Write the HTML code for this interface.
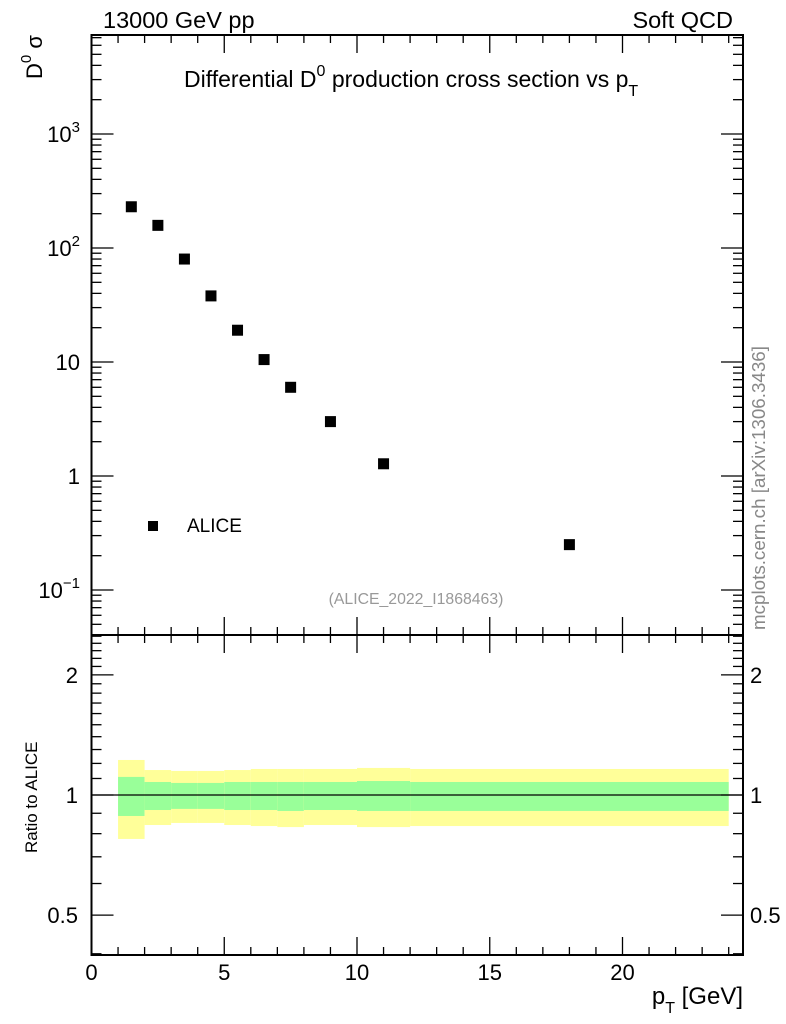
<!DOCTYPE html>
<html><head><meta charset="utf-8"><style>
html,body{margin:0;padding:0;background:#fff;}
svg{display:block;font-family:"Liberation Sans",sans-serif;}
</style></head><body>
<svg id="chart" width="786" height="1024" viewBox="0 0 786 1024" xmlns="http://www.w3.org/2000/svg">
<g id="bands"></g>
<g id="marks"></g>
<g id="axes"></g>
<text x="103" y="28" font-size="23.5">13000 GeV pp</text>
<text x="733" y="28" font-size="23.5" text-anchor="end">Soft QCD</text>
<text x="184" y="87" font-size="23">Differential D<tspan dy="-11" font-size="16">0</tspan><tspan dy="11"> production cross section vs p</tspan><tspan dy="9" font-size="16">T</tspan></text>
<text transform="translate(42,79) rotate(-90)" font-size="22">D<tspan dy="-11" font-size="15">0</tspan><tspan dy="11"> σ</tspan></text>
<text transform="translate(37,853) rotate(-90)" font-size="17">Ratio to ALICE</text>
<text x="743" y="1004" font-size="24" text-anchor="end">p<tspan dy="9" font-size="16">T</tspan><tspan dy="-9"> [GeV]</tspan></text>
<text x="416" y="604" font-size="15.8" fill="#999" text-anchor="middle">(ALICE_2022_I1868463)</text>
<text transform="translate(765,630) rotate(-90)" font-size="18.8" fill="#888">mcplots.cern.ch [arXiv:1306.3436]</text>
<g>
<rect x="148" y="521" width="10" height="10" fill="#000"/>
<text x="187" y="532" font-size="19">ALICE</text>
</g>
</svg>
<script>
const xCenters=[1.5,2.5,3.5,4.5,5.5,6.5,7.5,9,11,18];
const yValues=[230,158,80,38,19,10.5,6,3,1.28,0.25];
const binEdges=[1,2,3,4,5,6,7,8,10,12,24];
const yellowHi=[1.224,1.155,1.149,1.149,1.155,1.162,1.162,1.162,1.169,1.162];
const yellowLo=[0.776,0.841,0.851,0.851,0.841,0.836,0.831,0.841,0.831,0.836];
const greenHi=[1.11,1.078,1.072,1.072,1.078,1.078,1.078,1.078,1.084,1.078];
const greenLo=[0.886,0.917,0.923,0.923,0.917,0.917,0.912,0.917,0.912,0.912];
const xTicks=[0,5,10,15,20];
const yDecades=[-1,0,1,2,3];
const yDecadeLabels=["10","1","10","10","10"];
const yDecadeExps=["−1","","","2","3"];
const rTicks=[0.5,1,2];

const NS="http://www.w3.org/2000/svg";
const L=91.5,R=743,T=35,B1=635,B2=955;
const X=v=>L+v*26.55;
const Y=v=>134-(Math.log10(v)-3)*114;
const YR=v=>795-Math.log10(v)*399;
function mk(tag,attrs,parent){const e=document.createElementNS(NS,tag);for(const k in attrs)e.setAttribute(k,attrs[k]);parent.appendChild(e);return e;}
const bands=document.getElementById('bands'),marks=document.getElementById('marks'),axes=document.getElementById('axes');
for(let i=0;i<xCenters.length;i++){
 const x0=X(binEdges[i]),x1=X(binEdges[i+1]);
 const y=mk('rect',{x:x0,y:YR(yellowHi[i]),width:x1-x0,height:YR(yellowLo[i])-YR(yellowHi[i]),fill:'#ffff99'},bands);
 
 
 const g=mk('rect',{x:x0,y:YR(greenHi[i]),width:x1-x0,height:YR(greenLo[i])-YR(greenHi[i]),fill:'#99ff99'},bands);
 
 
 const p=mk('rect',{x:X(xCenters[i])-5.5,y:Y(yValues[i])-5.5,width:11,height:11,fill:'#000'},marks);
 
 
}
mk('line',{x1:L,x2:R,y1:YR(1),y2:YR(1),stroke:'#000','stroke-width':1.2},bands);
mk('rect',{x:L,y:T,width:R-L,height:B1-T,fill:'none',stroke:'#000','stroke-width':2},axes);
mk('rect',{x:L,y:B1,width:R-L,height:B2-B1,fill:'none',stroke:'#000','stroke-width':2},axes);
for(let v=0;v<=24.5;v+=1){
 const major=v%5===0,len=major?18:8;
 for(const [base,dir] of [[T,1],[B1,-1],[B1,1],[B2,-1]]){
  mk('line',{x1:X(v),x2:X(v),y1:base,y2:base+dir*len,stroke:'#000','stroke-width':1.3},axes);
 }
}
xTicks.forEach(v=>{const t=mk('text',{x:X(v),y:980,'font-size':22,'text-anchor':'middle'},axes);t.textContent=v;
 
 });
for(let d=-2;d<=3;d++){for(let m=1;m<10;m++){const v=m*Math.pow(10,d);const y=Y(v);if(y<T||y>B1)continue;
 const len=m===1?22:10;
 mk('line',{x1:L,x2:L+len,y1:y,y2:y,stroke:'#000','stroke-width':1.3},axes);
 mk('line',{x1:R,x2:R-len,y1:y,y2:y,stroke:'#000','stroke-width':1.3},axes);}}
yDecades.forEach((d,i)=>{const t=mk('text',{x:80,y:Y(Math.pow(10,d))+8,'font-size':22,'text-anchor':'end'},axes);
 t.textContent=yDecadeLabels[i];
 if(yDecadeExps[i]){const s=mk('tspan',{dy:-10,'font-size':15},t);s.textContent=yDecadeExps[i];}
 
 });
for(let v=0.4;v<=2.55;v+=0.1){const y=YR(v);if(y<B1||y>B2)continue;const maj=[0.5,1,2].some(a=>Math.abs(a-v)<1e-6);
 const len=maj?22:10;
 mk('line',{x1:L,x2:L+len,y1:y,y2:y,stroke:'#000','stroke-width':1.3},axes);
 mk('line',{x1:R,x2:R-len,y1:y,y2:y,stroke:'#000','stroke-width':1.3},axes);}
rTicks.forEach(v=>{const t1=mk('text',{x:78,y:YR(v)+8,'font-size':22,'text-anchor':'end'},axes);t1.textContent=v;
 
 
 const t2=mk('text',{x:750,y:YR(v)+8,'font-size':22},axes);t2.textContent=v;
 
 });
</script>
</body></html>
